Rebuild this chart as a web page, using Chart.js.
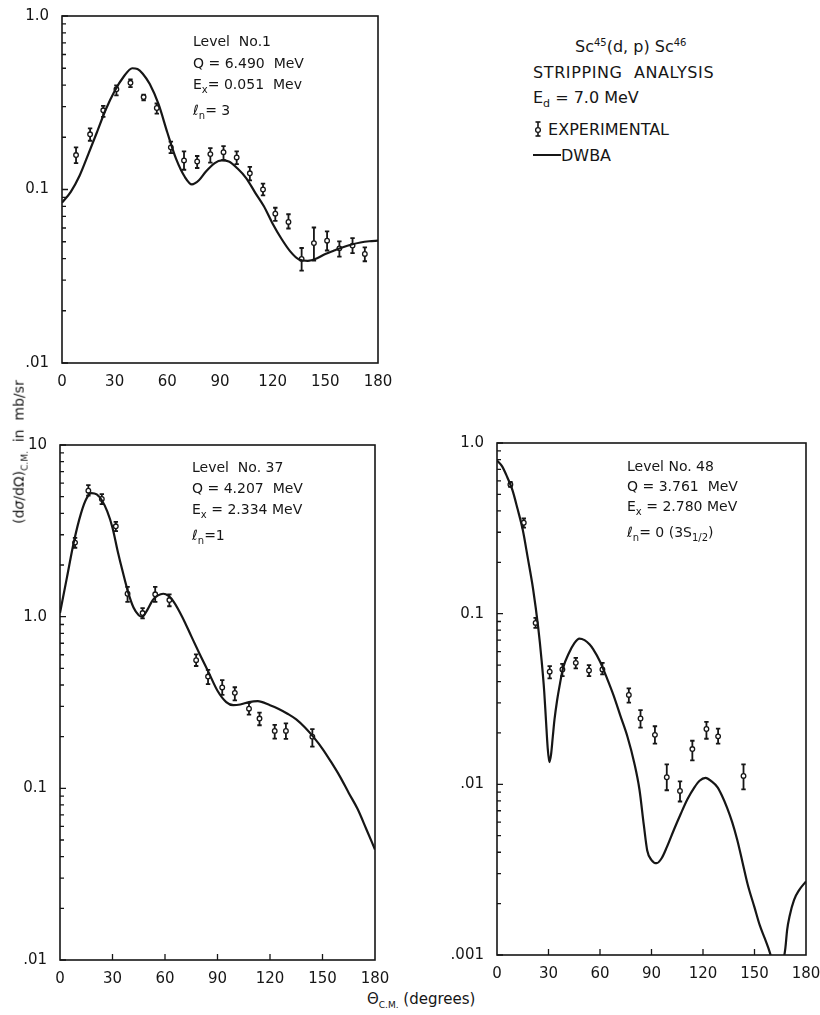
<!DOCTYPE html>
<html>
<head>
<meta charset="utf-8">
<script src="https://cdn.jsdelivr.net/npm/chart.js@4.4.0/dist/chart.umd.min.js"></script>
<style>
  body { margin: 0; background: #fff; }
  #wrap { position: relative; width: 820px; height: 1015px; font-family: 'DejaVu Sans', sans-serif; color: #161616; }
  canvas { position: absolute; }
  .note { position: absolute; font-size: 14px; white-space: nowrap; }
  .note sub { font-size: 10px; }
  .legend { position: absolute; left: 533px; top: 30px; font-size: 16px; line-height: 25.5px; white-space: nowrap; }
  .legend sup { font-size: 10px; }
  .legend sub { font-size: 11px; }
</style>
</head>
<body>
<div id="wrap">
  <canvas id="c1"></canvas>
  <canvas id="c2"></canvas>
  <canvas id="c3"></canvas>

  <div class="note" style="left:193px;top:31px;line-height:21.5px">Level&nbsp; No.1<br>Q = 6.490&nbsp; MeV<br>E<sub>x</sub>= 0.051&nbsp; Mev<br><i>ℓ</i><sub>n</sub>= 3</div>
  <div class="note" style="left:192px;top:457px;line-height:21px">Level&nbsp; No. 37<br>Q = 4.207&nbsp; MeV<br>E<sub>x</sub> = 2.334 MeV<br><i>ℓ</i><sub>n</sub>=1</div>
  <div class="note" style="left:627px;top:456px;line-height:20px">Level No. 48<br>Q = 3.761&nbsp; MeV<br>E<sub>x</sub> = 2.780 MeV<br><i>ℓ</i><sub>n</sub>= 0 (3S<sub>1/2</sub>)</div>

  <div class="legend">
    <div style="padding-left:42px">Sc<sup>45</sup>(d, p) Sc<sup>46</sup></div>
    <div style="letter-spacing:0.6px">STRIPPING&nbsp; ANALYSIS</div>
    <div>E<sub>d</sub> = 7.0 MeV</div>
    <div><svg width="10" height="16" style="vertical-align:-2px"><line x1="5" y1="1" x2="5" y2="15" stroke="#161616" stroke-width="1.6"/><line x1="2.5" y1="1" x2="7.5" y2="1" stroke="#161616" stroke-width="1.6"/><line x1="2.5" y1="15" x2="7.5" y2="15" stroke="#161616" stroke-width="1.6"/><circle cx="5" cy="9" r="2.4" fill="#fff" stroke="#161616" stroke-width="1.3"/></svg> EXPERIMENTAL</div>
    <div><span style="display:inline-block;width:28px;border-top:2px solid #161616;vertical-align:5px"></span>DWBA</div>
  </div>

  <div style="position:absolute;left:20px;top:452px;transform:translate(-50%,-50%) rotate(-90deg);font-size:14px;white-space:nowrap">(d<i>σ</i>/dΩ)<sub style="font-size:9px">C.M.</sub>&nbsp; in&nbsp; mb/sr</div>
  <div style="position:absolute;left:367px;top:990px;font-size:15px;white-space:nowrap">Θ<sub style="font-size:9px">C.M.</sub> (degrees)</div>
</div>

<script>
// ---- Level No. 1 (top left) ----
const p1Theta = [8, 16, 23.5, 31, 39, 46.5, 54, 62, 69.5, 77, 84.5, 92, 99.5, 107, 114.5, 121.5, 129, 136.5, 143.5, 151, 158, 165.5, 172.5];
const p1Value = [0.158, 0.208, 0.286, 0.378, 0.412, 0.341, 0.295, 0.175, 0.147, 0.145, 0.160, 0.164, 0.153, 0.124, 0.100, 0.0726, 0.0650, 0.0398, 0.0491, 0.0507, 0.0458, 0.0475, 0.0425];
const p1ErrLo = [0.142, 0.191, 0.262, 0.349, 0.389, 0.327, 0.274, 0.162, 0.130, 0.133, 0.143, 0.148, 0.140, 0.113, 0.0924, 0.0659, 0.0596, 0.0341, 0.0389, 0.0445, 0.0410, 0.0430, 0.0386];
const p1ErrHi = [0.175, 0.225, 0.303, 0.398, 0.431, 0.352, 0.313, 0.189, 0.166, 0.156, 0.173, 0.178, 0.166, 0.135, 0.108, 0.0785, 0.0720, 0.0460, 0.0604, 0.0573, 0.0502, 0.0525, 0.0464];
const p1CurveTheta = [0, 5, 10, 15, 20, 25, 30, 35, 40, 43, 46, 50, 55, 60, 65, 70, 74, 78, 82, 87, 91, 95, 100, 105, 110, 115, 120, 125, 130, 135, 140, 145, 150, 155, 160, 165, 170, 175, 180];
const p1CurveValue = [0.084, 0.097, 0.120, 0.160, 0.215, 0.290, 0.370, 0.445, 0.500, 0.495, 0.465, 0.405, 0.310, 0.213, 0.150, 0.118, 0.107, 0.113, 0.127, 0.142, 0.147, 0.145, 0.132, 0.116, 0.096, 0.080, 0.0635, 0.052, 0.044, 0.0395, 0.0388, 0.040, 0.0425, 0.0445, 0.0465, 0.0482, 0.0495, 0.0503, 0.0507];
const p1YTicks = [0.01, 0.1, 1];
const p1YLabels = ['.01', '0.1', '1.0'];

// ---- Level No. 37 (bottom left) ----
const p2Theta = [8.6, 16.2, 23.9, 31.9, 38.6, 47.2, 54.4, 62.5, 77.8, 84.6, 92.7, 99.9, 108, 114, 122.7, 129.1, 144.2];
const p2Value = [2.70, 5.42, 4.85, 3.36, 1.36, 1.05, 1.35, 1.25, 0.558, 0.448, 0.387, 0.360, 0.291, 0.255, 0.216, 0.216, 0.200];
const p2ErrLo = [2.52, 5.07, 4.52, 3.15, 1.22, 0.977, 1.22, 1.15, 0.516, 0.405, 0.350, 0.325, 0.269, 0.233, 0.195, 0.194, 0.175];
const p2ErrHi = [2.88, 5.84, 5.17, 3.57, 1.49, 1.12, 1.49, 1.35, 0.603, 0.490, 0.427, 0.388, 0.315, 0.276, 0.234, 0.239, 0.221];
const p2CurveTheta = [0, 4, 8, 12, 15, 18, 21, 24, 27, 30, 33, 36, 39, 42, 45, 47, 50, 53, 56, 59, 62, 65, 70, 75, 80, 85, 90, 95, 99, 103, 108, 113, 120, 125, 130, 135, 140, 145, 150, 155, 160, 165, 170, 175, 180];
const p2CurveValue = [1.05, 1.70, 2.75, 4.0, 4.85, 5.25, 5.15, 4.75, 4.1, 3.3, 2.4, 1.8, 1.38, 1.13, 1.02, 1.0, 1.10, 1.25, 1.33, 1.36, 1.32, 1.22, 0.99, 0.77, 0.60, 0.472, 0.37, 0.318, 0.305, 0.308, 0.318, 0.322, 0.305, 0.290, 0.272, 0.252, 0.226, 0.198, 0.170, 0.142, 0.117, 0.094, 0.076, 0.058, 0.044];
const p2YTicks = [0.01, 0.1, 1, 10];
const p2YLabels = ['.01', '0.1', '1.0', '10'];

// ---- Level No. 48 (bottom right) ----
const p3Theta = [7.8, 15.6, 22.5, 30.7, 38.1, 45.9, 53.6, 61.4, 76.8, 83.6, 92, 98.9, 106.6, 113.8, 122, 128.8, 143.6];
const p3Value = [0.571, 0.341, 0.0883, 0.0457, 0.0471, 0.0515, 0.0465, 0.0471, 0.0334, 0.0243, 0.0195, 0.0110, 0.00915, 0.0161, 0.0211, 0.0191, 0.0112];
const p3ErrLo = [0.553, 0.319, 0.0825, 0.0418, 0.0431, 0.0478, 0.0431, 0.0441, 0.0301, 0.0215, 0.0173, 0.00923, 0.00793, 0.0138, 0.0185, 0.0173, 0.00935];
const p3ErrHi = [0.591, 0.361, 0.0944, 0.0493, 0.0508, 0.0551, 0.0499, 0.0515, 0.0365, 0.0272, 0.0219, 0.0131, 0.0104, 0.0180, 0.0232, 0.0212, 0.0131];
const p3CurveTheta = [0, 3, 6, 9, 12, 15, 18, 21, 24, 26, 27.5, 28.5, 29.5, 30.5, 31.5, 32.5, 33.5, 35, 36.5, 38.5, 42, 45, 48, 51, 54, 56, 60, 64, 68, 72, 76, 80, 83, 85.5, 87.5, 90, 93, 96, 99, 103, 107, 111, 115, 118, 121.5, 125, 128.5, 131, 134, 137, 140, 143, 146, 150, 153, 156, 159, 162, 165, 167, 168, 169, 170.5, 173, 176, 180];
const p3CurveValue = [0.79, 0.73, 0.63, 0.53, 0.41, 0.31, 0.21, 0.14, 0.083, 0.053, 0.035, 0.024, 0.0165, 0.0135, 0.015, 0.019, 0.024, 0.031, 0.038, 0.048, 0.059, 0.067, 0.0715, 0.070, 0.066, 0.062, 0.0525, 0.042, 0.033, 0.025, 0.019, 0.0133, 0.0093, 0.0058, 0.0041, 0.0036, 0.00345, 0.0037, 0.0043, 0.0054, 0.0067, 0.0082, 0.0096, 0.0105, 0.0109, 0.0104, 0.0096, 0.0086, 0.0073, 0.0060, 0.0047, 0.0035, 0.0026, 0.0019, 0.0015, 0.00125, 0.00103, 0.0008, 0.0008, 0.00095, 0.0011, 0.0014, 0.0017, 0.0021, 0.0024, 0.0027];
const p3YTicks = [0.001, 0.01, 0.1, 1];
const p3YLabels = ['.001', '.01', '0.1', '1.0'];

// plot box of each panel on the page (left, top, right, bottom of the axes frame)
const boxes = {
  c1: { l: 62, t: 14, r: 378, b: 363 },
  c2: { l: 60, t: 443, r: 375, b: 960 },
  c3: { l: 497, t: 441, r: 806, b: 955 }
};
const M = { l: 50, t: 12, r: 18, b: 30 };
const INK = '#161616';

Chart.defaults.font.family = "'DejaVu Sans', sans-serif";
Chart.defaults.font.size = 15;
Chart.defaults.color = INK;

function logTicks(decades) {
    const out = [];
    for (let i = 0; i < decades.length; i++) {
        out.push(decades[i]);
        if (i < decades.length - 1) {
            for (let k = 2; k <= 9; k++) out.push(decades[i] * k);
        }
    }
    return out;
}

function makeErrorBars(theta, lo, hi) {
    return {
        id: 'errorBars',
        beforeDatasetsDraw(chart) {
            const { ctx } = chart;
            const xs = chart.scales.x, ys = chart.scales.y;
            ctx.save();
            ctx.strokeStyle = INK;
            ctx.lineWidth = 1.8;
            theta.forEach((t, i) => {
                const x = xs.getPixelForValue(t);
                const y1 = ys.getPixelForValue(hi[i]);
                const y2 = ys.getPixelForValue(lo[i]);
                ctx.beginPath();
                ctx.moveTo(x, y1); ctx.lineTo(x, y2);
                ctx.moveTo(x - 2.2, y1); ctx.lineTo(x + 2.2, y1);
                ctx.moveTo(x - 2.2, y2); ctx.lineTo(x + 2.2, y2);
                ctx.stroke();
            });
            ctx.restore();
        }
    };
}

// frame + inward ticks
function makeFrame(decades, xTicks) {
    return {
        id: 'frame',
        afterDraw(chart) {
            const { ctx, chartArea: a } = chart;
            const xs = chart.scales.x, ys = chart.scales.y;
            ctx.save();
            ctx.strokeStyle = INK;
            ctx.lineWidth = 1.6;
            ctx.strokeRect(a.left, a.top, a.right - a.left, a.bottom - a.top);
            ctx.lineWidth = 1.3;
            ctx.beginPath();
            ys.ticks.forEach(tk => {
                const y = ys.getPixelForValue(tk.value);
                const major = decades.some(d => Math.abs(Math.log10(d) - Math.log10(tk.value)) < 1e-6);
                ctx.moveTo(a.left, y);
                ctx.lineTo(a.left + (major ? 6 : 4), y);
            });
            if (xTicks) {
                xs.ticks.forEach(tk => {
                    if (tk.value <= 0 || tk.value >= 180) return;
                    const x = xs.getPixelForValue(tk.value);
                    ctx.moveTo(x, a.bottom);
                    ctx.lineTo(x, a.bottom - 6);
                });
            }
            ctx.stroke();
            ctx.restore();
        }
    };
}

function drawPanel(id, theta, value, lo, hi, cTheta, cValue, decades, labels, xTicks) {
    const box = boxes[id];
    const cv = document.getElementById(id);
    const w = box.r - box.l + M.l + M.r;
    const h = box.b - box.t + M.t + M.b;
    cv.width = w; cv.height = h;
    cv.style.left = (box.l - M.l) + 'px';
    cv.style.top = (box.t - M.t) + 'px';
    cv.style.width = w + 'px'; cv.style.height = h + 'px';

    new Chart(cv.getContext('2d'), {
        type: 'line',
        data: {
            datasets: [
                {
                    label: 'DWBA',
                    data: cTheta.map((t, i) => ({ x: t, y: cValue[i] })),
                    borderColor: INK,
                    borderWidth: 2.2,
                    pointRadius: 0,
                    cubicInterpolationMode: 'monotone',
                    fill: false
                },
                {
                    label: 'Experimental',
                    data: theta.map((t, i) => ({ x: t, y: value[i] })),
                    showLine: false,
                    pointRadius: 2.3,
                    pointBorderWidth: 1.3,
                    pointBorderColor: INK,
                    pointBackgroundColor: '#fff'
                }
            ]
        },
        options: {
            responsive: false,
            animation: false,
            devicePixelRatio: 1,
            layout: { padding: { left: 0, top: M.t, right: M.r, bottom: 0 } },
            plugins: { legend: { display: false }, tooltip: { enabled: false } },
            scales: {
                x: {
                    type: 'linear', min: 0, max: 180,
                    grid: { display: false },
                    border: { display: false },
                    ticks: { stepSize: 30, padding: 2, maxRotation: 0, autoSkip: false },
                    afterFit: s => { s.height = M.b; }
                },
                y: {
                    type: 'logarithmic',
                    min: decades[0], max: decades[decades.length - 1],
                    grid: { display: false },
                    border: { display: false },
                    afterBuildTicks: s => { s.ticks = logTicks(decades).map(v => ({ value: v })); },
                    ticks: {
                        autoSkip: false, padding: 5,
                        callback: v => {
                            const i = decades.findIndex(d => Math.abs(Math.log10(d) - Math.log10(v)) < 1e-6);
                            return i >= 0 ? labels[i] : '';
                        }
                    },
                    afterFit: s => { s.width = M.l; }
                }
            }
        },
        plugins: [makeErrorBars(theta, lo, hi), makeFrame(decades, xTicks)]
    });
}

drawPanel('c1', p1Theta, p1Value, p1ErrLo, p1ErrHi, p1CurveTheta, p1CurveValue, p1YTicks, p1YLabels, false);
drawPanel('c2', p2Theta, p2Value, p2ErrLo, p2ErrHi, p2CurveTheta, p2CurveValue, p2YTicks, p2YLabels, true);
drawPanel('c3', p3Theta, p3Value, p3ErrLo, p3ErrHi, p3CurveTheta, p3CurveValue, p3YTicks, p3YLabels, true);
</script>
</body>
</html>
